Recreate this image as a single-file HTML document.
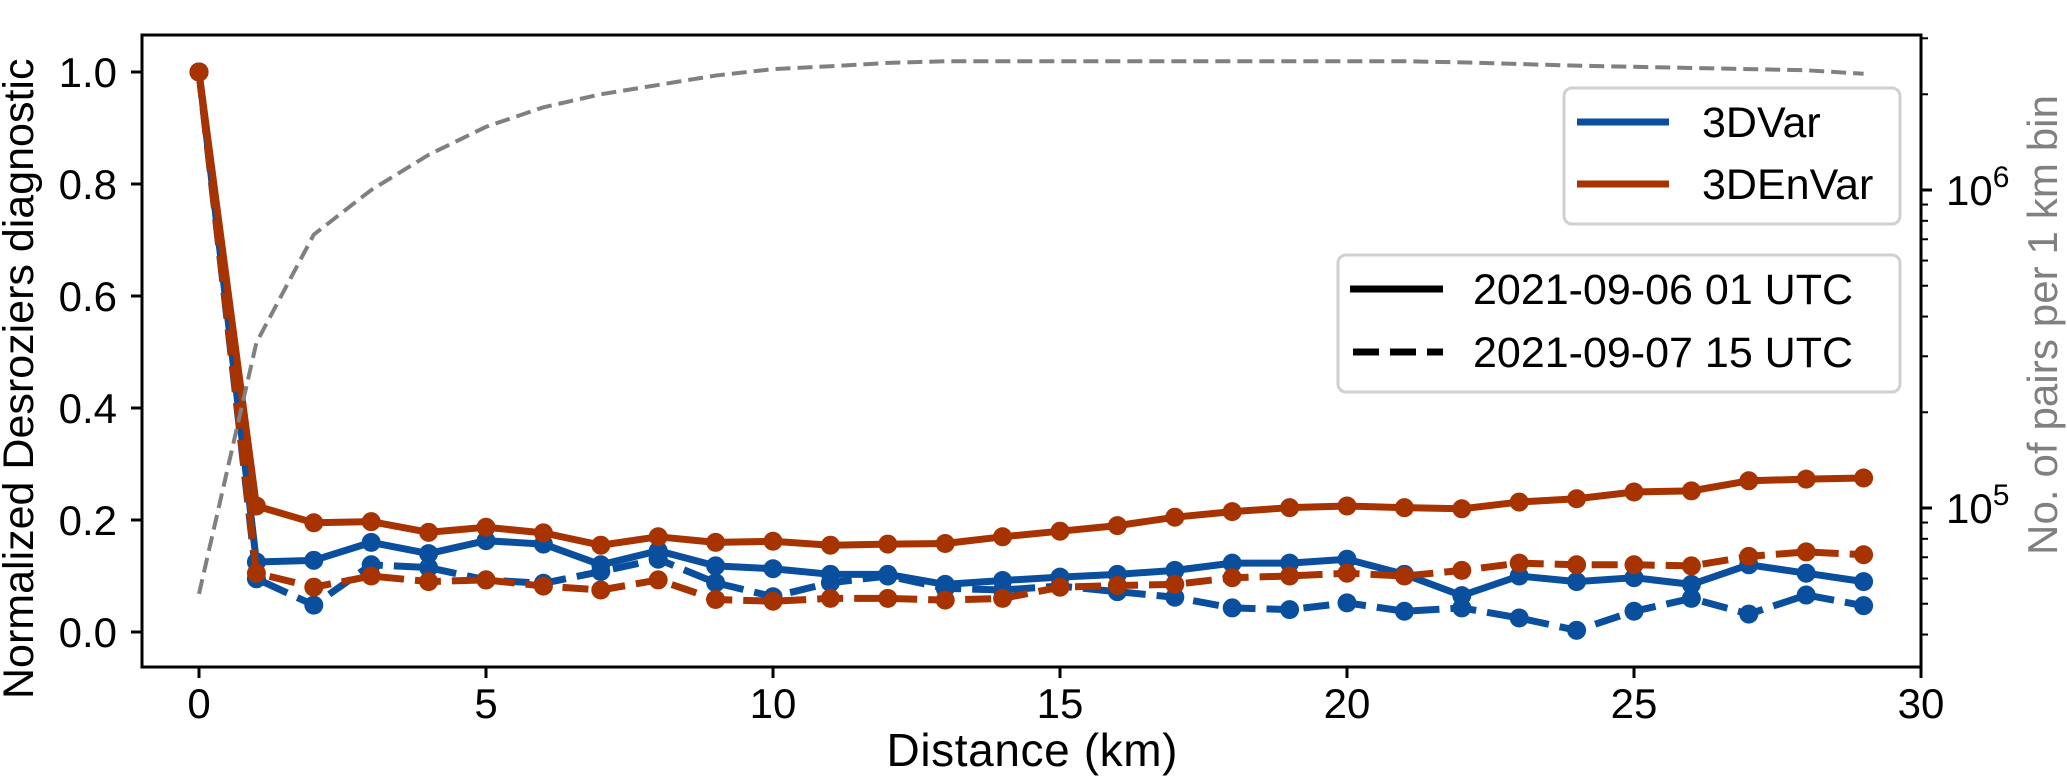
<!DOCTYPE html>
<html><head><meta charset="utf-8"><style>
html,body{margin:0;padding:0;background:#fff;}
svg{display:block;font-family:"Liberation Sans",sans-serif;}
</style></head><body>
<svg id="chart" width="2067" height="778" viewBox="0 0 2067 778">
<g id="gridless"></g>
</svg>
<script>
const distances = [0,1,2,3,4,5,6,7,8,9,10,11,12,13,14,15,16,17,18,19,20,21,22,23,24,25,26,27,28,29];
const var3dSolid = [1.0,0.125,0.128,0.16,0.14,0.163,0.157,0.12,0.145,0.118,0.113,0.103,0.103,0.085,0.092,0.098,0.103,0.11,0.123,0.123,0.13,0.103,0.065,0.1,0.09,0.097,0.085,0.12,0.105,0.09];
const envarSolid = [1.0,0.225,0.195,0.197,0.178,0.187,0.177,0.155,0.17,0.16,0.162,0.155,0.157,0.158,0.17,0.18,0.19,0.205,0.215,0.222,0.225,0.222,0.22,0.232,0.238,0.25,0.252,0.27,0.273,0.275];
const var3dDashed = [1.0,0.095,0.048,0.12,0.115,0.093,0.087,0.108,0.13,0.088,0.063,0.088,0.1,0.078,0.075,0.082,0.072,0.062,0.043,0.04,0.052,0.037,0.043,0.025,0.003,0.037,0.06,0.032,0.066,0.047];
const envarDashed = [1.0,0.105,0.08,0.1,0.09,0.093,0.082,0.075,0.093,0.058,0.055,0.06,0.06,0.057,0.06,0.08,0.083,0.085,0.097,0.1,0.105,0.1,0.11,0.123,0.12,0.12,0.118,0.135,0.143,0.138];
const pairCounts = [53700,331000,724000,1000000,1290000,1580000,1820000,2000000,2140000,2290000,2400000,2450000,2510000,2540000,2540000,2540000,2540000,2540000,2540000,2540000,2540000,2540000,2520000,2490000,2460000,2440000,2420000,2400000,2380000,2320000];
const xTicks = [0,5,10,15,20,25,30];
const yTicks = [0.0,0.2,0.4,0.6,0.8,1.0];
const yTickLabels = ["0.0","0.2","0.4","0.6","0.8","1.0"];
const rightMajor = [5,6];

const NS="http://www.w3.org/2000/svg";
const svg=document.getElementById('chart');
const L=142,R=1921,T=35,B=667;
const X=v=>199+v*(1921-199)/30;
const Y=v=>632-v*(632-72);
const YR=v=>190-(Math.log10(v)-6)*318;
function mk(tag,attrs,parent){const e=document.createElementNS(NS,tag);for(const k in attrs)e.setAttribute(k,attrs[k]);(parent||svg).appendChild(e);return e;}

const BLUE="#0a4f9e",RED="#a63300";
function series(vals,color,dashed,name){
  const g=mk('g',{});
  
  
  const pts=distances.map((d,i)=>X(d)+','+Y(vals[i])).join(' ');
  const pl=mk('polyline',{points:pts,fill:'none',stroke:color,'stroke-width':7,'stroke-linejoin':'round','stroke-dasharray':dashed?'26 11':'none'},g);
  
  
  distances.forEach((d,i)=>{
    const c=mk('circle',{cx:X(d),cy:Y(vals[i]),r:9.5,fill:color},g);
    
    
  });
}
series(var3dSolid,BLUE,false,'3dvar-0906');
series(envarSolid,RED,false,'3denvar-0906');
series(var3dDashed,BLUE,true,'3dvar-0907');
series(envarDashed,RED,true,'3denvar-0907');

const gp=mk('polyline',{points:distances.map((d,i)=>X(d)+','+YR(pairCounts[i])).join(' '),fill:'none',stroke:'#808080','stroke-width':4,'stroke-dasharray':'15 7'});



const frame=mk('rect',{x:L,y:T,width:R-L,height:B-T,fill:'none',stroke:'#000','stroke-width':3});



xTicks.forEach(t=>{
  mk('line',{x1:X(t),x2:X(t),y1:B,y2:B+11,stroke:'#000','stroke-width':3});
  const tx=mk('text',{x:X(t),y:718,'font-size':42,'text-anchor':'middle'});
  tx.textContent=t;
  
  
});
yTicks.forEach((t,i)=>{
  mk('line',{x1:L-11,x2:L,y1:Y(t),y2:Y(t),stroke:'#000','stroke-width':3});
  const tx=mk('text',{x:117,y:Y(t)+15,'font-size':42,'text-anchor':'end'});
  tx.textContent=yTickLabels[i];
  
  
});
for(let e=4;e<=6;e++){for(let m=1;m<10;m++){const v=m*Math.pow(10,e);const y=YR(v);if(y<T-1||y>B+1)continue;
  mk('line',{x1:R,x2:R+(m===1?11:7),y1:y,y2:y,stroke:'#000','stroke-width':m===1?3:2});}}
rightMajor.forEach(e=>{
  const tx=mk('text',{x:1946,y:YR(Math.pow(10,e))+15,'font-size':42});
  
  
  tx.textContent='10';
  const s=mk('tspan',{dy:-18,'font-size':30},tx);s.textContent=e;
});

let t=mk('text',{x:1032,y:766,'font-size':46,'text-anchor':'middle',textLength:291});
t.textContent='Distance (km)';


t=mk('text',{x:0,y:0,'font-size':43,transform:'translate(33,699) rotate(-90)'});
t.textContent='Normalized Desroziers diagnostic';


t=mk('text',{x:0,y:0,'font-size':42,fill:'#808080','text-anchor':'middle',textLength:460,transform:'translate(2057,325) rotate(-90)'});
t.textContent='No. of pairs per 1 km bin';



function legend(x,y,w,h,items,name){
  const g=mk('g',{});
  
  
  mk('rect',{x:x,y:y,width:w,height:h,rx:8,fill:'#fff','fill-opacity':0.85,stroke:'#d0d0d0','stroke-width':3},g);
  items.forEach(it=>{
    mk('line',{x1:it.x1,x2:it.x2,y1:it.y,y2:it.y,stroke:it.c,'stroke-width':7,'stroke-dasharray':it.d||'none'},g);
    const tx=mk('text',{x:it.tx,y:it.y+15,'font-size':43},g);
    tx.textContent=it.label;
    
    
  });
}
legend(1564,88,336,136,[{x1:1577,x2:1669,y:122,c:BLUE,tx:1702,label:'3DVar'},{x1:1577,x2:1669,y:184,c:RED,tx:1702,label:'3DEnVar'}],'model-legend');
legend(1338,255,562,137,[{x1:1350,x2:1443,y:289,c:'#000',tx:1473,label:'2021-09-06 01 UTC'},{x1:1353,x2:1443,y:352,c:'#000',d:'26 11',tx:1473,label:'2021-09-07 15 UTC'}],'date-legend');
</script>
</body></html>
